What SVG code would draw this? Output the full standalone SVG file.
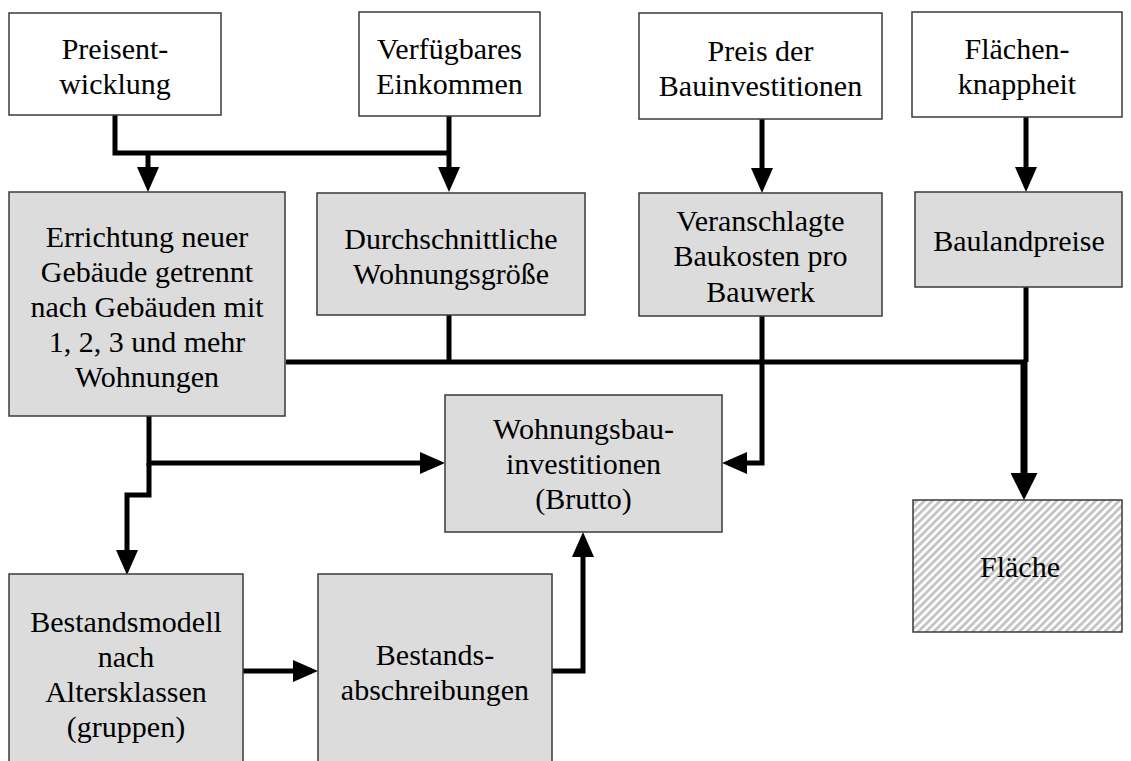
<svg xmlns="http://www.w3.org/2000/svg" width="1131" height="761" viewBox="0 0 1131 761">
<style>
.w{fill:#ffffff;stroke:#3a3a3a;stroke-width:1.5}
.g{fill:#dcdcdc;stroke:#3a3a3a;stroke-width:1.5}
.h{fill:url(#hatch);stroke:#3a3a3a;stroke-width:1.5}
text{font-size:30px;fill:#000;text-anchor:middle}
.c{fill:none;stroke:#000;stroke-width:5}
.c2{fill:none;stroke:#000;stroke-width:7}
</style>
<defs>
<marker id="ah" viewBox="0 0 25 22" refX="19" refY="11" markerWidth="25" markerHeight="22" markerUnits="userSpaceOnUse" orient="auto">
<path d="M0,0 L25,11 L0,22 z" fill="#000"/>
</marker>
<marker id="ahb" viewBox="0 0 27 27" refX="20" refY="13.5" markerWidth="27" markerHeight="27" markerUnits="userSpaceOnUse" orient="auto">
<path d="M0,0 L27,13.5 L0,27 z" fill="#000"/>
</marker>
<pattern id="hatch" patternUnits="userSpaceOnUse" width="5.5" height="5.5" patternTransform="rotate(45)">
<rect width="5.5" height="5.5" fill="#ffffff"/>
<rect width="2.9" height="5.5" fill="#c4c4c4"/>
</pattern>
</defs>

<g id="connectors">
<path class="c" d="M115,115 V153 H449"/>
<path class="c" d="M148,153 V186" marker-end="url(#ah)"/>
<path class="c" d="M449,116 V186" marker-end="url(#ah)"/>
<path class="c" d="M762,119 V187" marker-end="url(#ah)"/>
<path class="c" d="M1026,117 V186" marker-end="url(#ah)"/>
<path class="c" d="M286,362 H1026"/>
<path class="c" d="M449,315 V362"/>
<path class="c" d="M762,316 V463 H728" marker-end="url(#ah)"/>
<path class="c" d="M1026,287 V362"/>
<path class="c2" d="M1024,360 V493" marker-end="url(#ahb)"/>
<path class="c" d="M149,416 V463 H439" marker-end="url(#ah)"/>
<path class="c" d="M149,463 V495 H127 V569" marker-end="url(#ah)"/>
<path class="c" d="M243,671 H312" marker-end="url(#ah)"/>
<path class="c" d="M552,671 H583 V538" marker-end="url(#ah)"/>
</g>

<g font-family="Liberation Serif, Times New Roman, Tinos, DejaVu Serif, serif">
<g id="preisentwicklung">
<rect class="w" x="9" y="13" width="212" height="102"/>
<text x="115" y="59">Preisent-</text>
<text x="115" y="94">wicklung</text>
</g>
<g id="einkommen">
<rect class="w" x="359" y="12" width="181" height="104"/>
<text x="449.5" y="59">Verfügbares</text>
<text x="449.5" y="94">Einkommen</text>
</g>
<g id="preis-bau">
<rect class="w" x="639" y="13" width="243" height="106"/>
<text x="760.5" y="61">Preis der</text>
<text x="760.5" y="96">Bauinvestitionen</text>
</g>
<g id="flaechenknappheit">
<rect class="w" x="912" y="12" width="210" height="105"/>
<text x="1017" y="59">Flächen-</text>
<text x="1017" y="94">knappheit</text>
</g>

<g id="errichtung">
<rect class="g" x="9" y="192" width="276" height="224"/>
<text x="147" y="247">Errichtung neuer</text>
<text x="147" y="282">Gebäude getrennt</text>
<text x="147" y="317">nach Gebäuden mit</text>
<text x="147" y="352">1, 2, 3 und mehr</text>
<text x="147" y="387">Wohnungen</text>
</g>
<g id="wohnungsgroesse">
<rect class="g" x="317" y="193" width="268" height="122"/>
<text x="451" y="249">Durchschnittliche</text>
<text x="451" y="284">Wohnungsgröße</text>
</g>
<g id="baukosten">
<rect class="g" x="639" y="193" width="243" height="123"/>
<text x="760.5" y="231">Veranschlagte</text>
<text x="760.5" y="266">Baukosten pro</text>
<text x="760.5" y="302">Bauwerk</text>
</g>
<g id="baulandpreise">
<rect class="g" x="915" y="192" width="207" height="95"/>
<text x="1019" y="251">Baulandpreise</text>
</g>

<g id="wohnungsbauinvestitionen">
<rect class="g" x="445" y="395" width="277" height="137"/>
<text x="583.5" y="439">Wohnungsbau-</text>
<text x="583.5" y="474">investitionen</text>
<text x="583.5" y="509">(Brutto)</text>
</g>
<g id="flaeche">
<rect class="h" x="913" y="500" width="209" height="132"/>
<text x="1020" y="577">Fläche</text>
</g>

<g id="bestandsmodell">
<rect class="g" x="9" y="574" width="234" height="200"/>
<text x="126" y="632">Bestandsmodell</text>
<text x="126" y="667">nach</text>
<text x="126" y="702">Altersklassen</text>
<text x="126" y="737">(gruppen)</text>
</g>
<g id="abschreibungen">
<rect class="g" x="318" y="574" width="234" height="200"/>
<text x="435" y="665">Bestands-</text>
<text x="435" y="700">abschreibungen</text>
</g>
</g>
</svg>
